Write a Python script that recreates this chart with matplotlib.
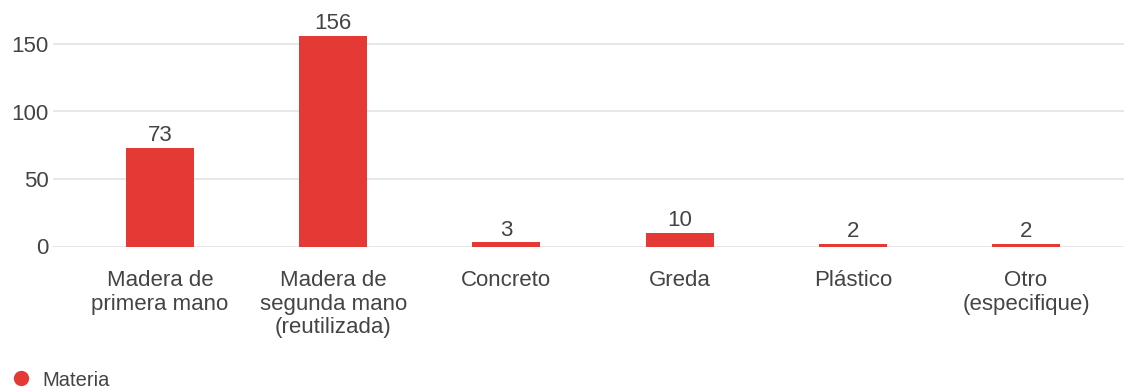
import matplotlib

matplotlib.use("Agg")

import matplotlib.pyplot as plt
from matplotlib.lines import Line2D

categories = [
    "Madera de\nprimera mano",
    "Madera de\nsegunda mano\n(reutilizada)",
    "Concreto",
    "Greda",
    "Plástico",
    "Otro\n(especifique)",
]
counts = [73, 156, 3, 10, 2, 2]
yticks = [0, 50, 100, 150]
series_name = "Materia"

RED = "#e53935"
TEXT = "#444444"
GRID = "#e3e3e3"
FS = 16

plt.rcParams["font.family"] = ["Liberation Sans", "DejaVu Sans"]

fig = plt.figure(figsize=(11.24, 3.90), dpi=100)
# axes box in figure pixels: x 53..1124, y from 0 at 246.5 upward
W, H = 1124, 390
y0_px, px_per_unit = 246.5, 202.5 / 150
ymax = 175
ax = fig.add_axes([53 / W, (H - y0_px) / H, (W - 53) / W, ymax * px_per_unit / H])

x = list(range(len(categories)))
ax.bar(x, counts, width=68 / 173.2, color=RED, zorder=3)
for xi, v in zip(x, counts):
    ax.text(xi, v + 1.2, str(v), ha="center", va="bottom", fontsize=FS, color=TEXT)

ax.set_xlim((53 - 160) / 173.2, (1124 - 160) / 173.2)
ax.set_ylim(0, ymax)
ax.set_yticks(yticks)
ax.set_yticklabels([str(t) for t in yticks], fontsize=FS, color=TEXT)
ax.set_xticks(x)
ax.set_xticklabels(categories, fontsize=FS, color=TEXT, linespacing=1.16)
ax.tick_params(axis="both", length=0)
ax.tick_params(axis="x", pad=17)
ax.tick_params(axis="y", pad=3)
ax.grid(axis="y", color=GRID, linewidth=1.2, zorder=0)
ax.set_axisbelow(True)
for s in ax.spines.values():
    s.set_visible(False)

handle = Line2D([], [], marker="o", linestyle="none", markersize=10,
                markerfacecolor=RED, markeredgecolor=RED)
fig.legend([handle], [series_name], loc="center left",
           bbox_to_anchor=(-0.011, 1 - 380 / H), frameon=False,
           fontsize=14.5, handletextpad=0.3, handlelength=1.5, labelcolor=TEXT)

fig.savefig("out.png", dpi=100)
